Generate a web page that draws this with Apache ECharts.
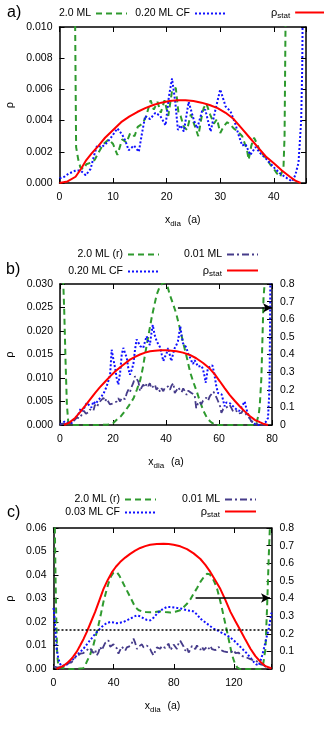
<!DOCTYPE html>
<html>
<head>
<meta charset="utf-8">
<script src="https://cdn.jsdelivr.net/npm/echarts@6/dist/echarts.min.js"></script>
<style>html,body{margin:0;padding:0;background:#fff}</style>
</head>
<body>
<div id="chart" style="width:324px;height:729px"></div>
<script>
// ---- a) ----
const aStat = [[0,0],[1.5,0.0001],[3,0.0004],[4,0.0009],[5,0.00147],[6,0.0019],[7.3,0.0024],[8.5,0.0029],[10,0.0034],[11.5,0.0039],[13,0.00425],[14.5,0.00455],[16,0.0048],[17.5,0.0050],[19,0.00515],[20.5,0.00525],[22,0.0053],[23.5,0.0053],[25,0.00525],[26.5,0.00515],[28,0.0050],[29.5,0.0048],[31,0.0045],[32.5,0.0041],[34,0.0035],[35.5,0.0029],[37,0.0023],[38.5,0.0017],[40,0.00126],[41.5,0.0008],[43,0.0004],[44,0.00015],[45,0]]
const a20ML = [[2.6,0.03],[2.9,0.011],[3.1,0.0023],[3.5,0.0015],[3.9,0.0010],[4.5,0.0009],[5.0,0.0012],[5.8,0.0013],[6.6,0.0015],[7.2,0.0019],[8.2,0.0025],[9.2,0.0028],[10.0,0.0025],[10.8,0.0018],[11.7,0.0028],[12.5,0.0026],[13.2,0.0032],[14.0,0.0030],[14.6,0.0036],[15.5,0.0038],[16.2,0.0043],[17.0,0.0053],[17.6,0.0047],[18.3,0.0052],[18.9,0.0045],[19.6,0.0053],[20.3,0.0043],[21.0,0.0059],[21.7,0.0061],[22.2,0.0045],[22.6,0.0043],[23.2,0.0036],[23.8,0.0034],[24.5,0.0044],[25.4,0.0035],[25.9,0.0030],[26.5,0.0042],[26.9,0.0048],[27.4,0.0051],[28.1,0.0044],[28.8,0.0038],[29.4,0.0041],[30.0,0.0032],[30.6,0.0036],[31.3,0.0039],[32.0,0.0037],[32.5,0.0035],[33.3,0.0033],[34.1,0.0030],[34.6,0.0025],[35.0,0.0021],[35.3,0.0015],[35.8,0.0024],[36.3,0.0029],[36.9,0.0025],[37.5,0.0019],[38.1,0.0018],[38.7,0.0015],[39.3,0.0012],[40.0,0.0009],[40.6,0.0006],[41.2,0.0004],[41.8,0.0010],[42.0,0.003],[42.2,0.011],[42.4,0.03]]
const a020CF = [[0,0.0003],[0.9,0.0004],[1.7,0.0006],[2.4,0.0007],[3.0,0.0008],[3.9,0.0008],[4.9,0.0005],[5.8,0.0009],[6.4,0.0017],[7.0,0.0024],[7.9,0.0023],[8.9,0.0026],[9.8,0.0030],[10.8,0.0035],[11.7,0.0031],[12.3,0.0027],[12.9,0.0021],[13.9,0.0024],[14.8,0.0020],[15.4,0.0032],[16.0,0.0043],[16.9,0.0041],[17.9,0.0045],[18.8,0.0043],[19.8,0.0037],[20.4,0.0055],[21.0,0.0067],[21.6,0.0052],[22.1,0.0034],[22.6,0.0037],[23.2,0.0033],[24.1,0.0052],[25.1,0.0040],[25.7,0.0035],[26.6,0.0046],[27.2,0.0047],[28.2,0.0033],[29.1,0.0047],[30.0,0.0060],[31.0,0.0049],[31.9,0.0046],[32.8,0.0038],[33.5,0.0030],[34.1,0.0024],[34.7,0.0025],[35.6,0.0018],[36.6,0.0023],[37.5,0.0019],[38.7,0.0015],[40.0,0.0010],[41.2,0.0006],[42.5,0.0003],[43.4,0.0001],[44.0,0.0005],[44.6,0.0013],[45.1,0.004],[45.3,0.0075],[45.4,0.012]]

// ---- b) ----
const bStat = [[1.5,0],[3.5,0.0005],[5.7,0.0015],[7.5,0.0027],[9.4,0.0040],[11.3,0.0054],[13.2,0.0068],[15,0.0080],[17,0.0092],[19,0.0104],[20.8,0.0114],[22.7,0.0123],[24.5,0.0131],[26.4,0.0139],[28.3,0.0145],[30.2,0.0150],[32.1,0.0154],[34,0.0157],[35.8,0.0158],[38,0.0159],[40,0.0159],[42,0.0158],[44,0.0157],[46.4,0.0154],[49,0.0149],[51.4,0.0142],[54,0.0132],[56.5,0.0120],[58.5,0.0107],[60.3,0.0093],[62.2,0.0078],[64,0.0064],[66,0.0051],[67.8,0.0040],[69.7,0.0029],[71.6,0.0019],[73.5,0.0011],[75.4,0.0006],[77,0.0002],[78.5,0]]
const b20MLr = [[1.0,1.0],[1.25,0.8],[1.6,0.645],[2.1,0.36],[2.6,0.115],[3.1,0.02],[3.6,0],[10,0],[15,0],[18,0.002],[20,0.01],[21.4,0.03],[23,0.05],[24.5,0.078],[26,0.11],[27.7,0.15],[29,0.2],[30.2,0.25],[31.2,0.32],[32.1,0.4],[33.4,0.51],[34.6,0.61],[35.6,0.68],[36.5,0.74],[37.5,0.78],[38.4,0.80],[39.5,0.81],[40.5,0.79],[41.4,0.74],[42.6,0.69],[43.9,0.63],[45.2,0.55],[46.6,0.46],[47.9,0.38],[49.1,0.30],[50.4,0.24],[51.6,0.19],[52.9,0.13],[54.2,0.078],[55.5,0.04],[56.7,0.02],[58,0.006],[59,0],[65,0],[70,0],[73,0],[74.1,0.01],[75,0.06],[75.4,0.115],[76,0.27],[76.6,0.6],[76.8,0.72],[77.2,0.8],[77.6,1.0]]
const b020CF = [[0,0.0001],[1,0.0005],[1.9,0.0008],[3,0.0005],[4.4,0.0004],[5.6,0.0012],[6.9,0.0022],[7.8,0.0035],[8.5,0.0030],[9.3,0.0038],[10.1,0.0047],[11,0.0042],[11.8,0.0037],[12.6,0.0050],[13.4,0.0045],[14.5,0.0053],[15.7,0.0061],[16.6,0.0069],[17.6,0.0082],[18.3,0.0095],[18.9,0.0107],[19.5,0.0160],[20.2,0.0138],[20.8,0.0121],[21.4,0.0100],[22,0.0086],[22.7,0.0112],[23.3,0.0150],[23.9,0.0164],[24.6,0.0152],[25.2,0.0143],[25.8,0.0120],[26.4,0.0107],[27.1,0.0118],[27.7,0.0130],[28.3,0.0160],[28.9,0.0182],[29.6,0.0175],[30.2,0.0168],[30.8,0.0172],[31.4,0.0164],[32.1,0.0178],[32.7,0.0189],[33.3,0.0178],[33.9,0.0170],[34.5,0.0195],[35,0.0213],[35.7,0.0192],[36.5,0.0178],[37.1,0.0180],[37.8,0.0165],[38.4,0.0150],[39,0.0136],[39.6,0.0145],[40.2,0.0152],[40.8,0.0164],[41.4,0.0150],[42,0.0136],[42.7,0.0152],[43.3,0.0164],[43.9,0.0170],[44.5,0.0178],[45.4,0.0210],[45.9,0.0190],[46.4,0.0174],[47.1,0.0176],[47.7,0.0165],[48.3,0.0152],[48.9,0.0146],[49.6,0.0136],[50.2,0.0130],[50.8,0.0138],[51.4,0.0132],[52.1,0.0124],[52.7,0.0121],[53.3,0.0126],[53.9,0.0120],[54.5,0.0105],[55,0.0090],[55.8,0.0121],[56.5,0.0118],[57.5,0.0127],[58.2,0.0110],[58.9,0.0085],[59.6,0.0068],[60.3,0.0070],[61,0.0065],[61.6,0.0052],[62.1,0.0040],[62.8,0.0048],[63.5,0.0052],[64.2,0.0046],[65.3,0.0040],[66,0.0036],[66.8,0.0032],[67.6,0.0030],[68.3,0.0037],[69,0.0043],[69.7,0.0050],[70.4,0.0033],[71.0,0.0022],[71.6,0.0015],[72.3,0.0008],[72.9,0.0004],[73.8,0.0001],[74.7,0],[75.7,0.0001],[76.6,0.0002],[77.6,0.0006],[78.5,0.0015],[78.9,0.006],[79.1,0.010],[79.3,0.025],[79.5,0.04]]
const b001ML = [[0,0],[1,0.0003],[2,0.0002],[3,0.0005],[4,0.0004],[5,0.0009],[5.7,0.0011],[6.5,0.0016],[7.3,0.0014],[8.2,0.0022],[9,0.0030],[9.8,0.0024],[10.7,0.0027],[11.3,0.0033],[11.9,0.0036],[12.6,0.0030],[13.2,0.0043],[13.9,0.0038],[14.5,0.0045],[15.1,0.0050],[15.7,0.0054],[16.4,0.0058],[17,0.0050],[17.6,0.0056],[18.2,0.0050],[18.8,0.0044],[19.5,0.0040],[20.1,0.0046],[20.8,0.0042],[21.4,0.0050],[22,0.0057],[22.7,0.0050],[23.3,0.0058],[23.9,0.0062],[24.6,0.0055],[25.2,0.0068],[25.8,0.0075],[26.4,0.0070],[27.1,0.0082],[27.7,0.0090],[28.3,0.0104],[28.9,0.0100],[29.6,0.0092],[30.2,0.0072],[30.8,0.0080],[31.4,0.0086],[32.1,0.0080],[32.7,0.0088],[33.3,0.0083],[33.9,0.0089],[34.5,0.0078],[35.2,0.0082],[35.8,0.0086],[36.4,0.0075],[37.1,0.0080],[37.7,0.0071],[38.3,0.0078],[39,0.0072],[39.6,0.0080],[40.2,0.0076],[40.8,0.0082],[41.5,0.0075],[42.1,0.0084],[42.8,0.0089],[43.3,0.0068],[44,0.0074],[44.6,0.0080],[45.2,0.0075],[45.9,0.0070],[46.5,0.0078],[47.1,0.0072],[47.8,0.0064],[48.4,0.0073],[48.9,0.0072],[49.6,0.0068],[50.2,0.0070],[50.8,0.0064],[51.4,0.0036],[52,0.0045],[52.7,0.0050],[53.3,0.0044],[54,0.0052],[54.6,0.0054],[55.2,0.0058],[55.9,0.0052],[56.5,0.0061],[57.2,0.0064],[57.9,0.0071],[58.4,0.0068],[59.1,0.0058],[59.7,0.0050],[60.4,0.0040],[60.9,0.0026],[61.6,0.0034],[62.3,0.0030],[63,0.0038],[64,0.0043],[64.7,0.0036],[65.4,0.0028],[65.9,0.0026],[66.6,0.0030],[67.2,0.0024],[67.8,0.0022],[68.5,0.0026],[69.1,0.0032],[69.7,0.0029],[70.3,0.0022],[71,0.0018],[71.6,0.0014],[72.2,0.0008],[73,0.0005],[74,0.0003],[75,0.0002],[76.5,0.0001],[78,0]]
const bArrow = [[44.5,0.665],[80,0.665]]

// ---- c) ----
const cStat = [[2,0],[4,0.0006],[6.5,0.0013],[9,0.0025],[11,0.0037],[13,0.0052],[15.5,0.0074],[17.7,0.0100],[20,0.0128],[22.1,0.0157],[24.9,0.0200],[27.7,0.0243],[30.5,0.0292],[33.2,0.0340],[36,0.0378],[38.8,0.0411],[41.5,0.0435],[44.3,0.0455],[47.7,0.0474],[51,0.0490],[54.3,0.0504],[57.7,0.0515],[61,0.0523],[64.3,0.0529],[68.7,0.0532],[73.2,0.0533],[76.6,0.0532],[79.9,0.0529],[84.3,0.0522],[88.8,0.0510],[93.2,0.0492],[97.7,0.0468],[101,0.0443],[104.3,0.0413],[107.6,0.0378],[111,0.0340],[114.3,0.0294],[117.7,0.0243],[121,0.0203],[124.3,0.0165],[127.7,0.0124],[131,0.0086],[134.3,0.0055],[137.7,0.0030],[141,0.0012],[144.3,0.0004],[145,0.0002]]
const c20MLr = [[0.3,1.2],[0.9,0.8],[1.3,0.55],[1.8,0.3],[2.4,0.1],[3.2,0.01],[4,0],[10,0],[15,0],[19.9,0.005],[21,0.02],[22.1,0.04],[24.3,0.08],[26.5,0.134],[28.2,0.19],[29.9,0.248],[31.6,0.315],[33.2,0.38],[34.9,0.435],[36.5,0.484],[38.2,0.525],[39.9,0.546],[41,0.552],[42.1,0.55],[43.8,0.53],[45.4,0.503],[47.6,0.465],[49.9,0.427],[52.1,0.39],[54.3,0.352],[56.5,0.335],[58.8,0.327],[61.5,0.323],[64.3,0.322],[67.6,0.324],[71,0.327],[74.3,0.323],[77.7,0.32],[81,0.325],[84.3,0.333],[86.5,0.35],[88.8,0.37],[91,0.395],[93.2,0.427],[95.5,0.46],[97.7,0.494],[100,0.522],[102.1,0.54],[103.8,0.538],[105.5,0.52],[107.2,0.49],[108.8,0.456],[110.5,0.4],[112.1,0.342],[113.8,0.275],[115.5,0.21],[117.2,0.14],[118.8,0.078],[120.5,0.035],[122.1,0.01],[124,0],[130,0],[137.7,0],[139.5,0.03],[141,0.115],[142.1,0.36],[143.2,0.645],[143.9,0.8],[144.3,1.0]]
const c003CF = [[0,0.026],[0.7,0.022],[1.3,0.016],[2.1,0.0086],[3.2,0.0045],[4.3,0.0023],[5.4,0.0012],[6.5,0.0009],[8.7,0.0018],[11,0.0030],[13.2,0.0043],[15.5,0.0058],[17.7,0.0072],[19.9,0.0086],[22.1,0.0104],[24.3,0.0122],[26.5,0.0140],[28.8,0.0157],[31,0.0172],[33.2,0.0186],[35.4,0.0195],[37.7,0.0200],[39.9,0.0198],[42.1,0.0195],[44.3,0.0197],[46.5,0.0200],[48.8,0.0207],[51,0.0214],[53.2,0.0222],[55.5,0.0228],[57.7,0.0224],[60,0.0215],[62.1,0.0209],[64.3,0.0207],[66.5,0.0218],[68.8,0.0235],[71,0.0248],[73.2,0.0257],[75.5,0.0264],[78.8,0.0263],[82.1,0.0260],[85.5,0.0256],[88.8,0.0250],[91,0.0248],[93.2,0.0245],[95.5,0.0232],[97.7,0.0214],[100,0.0203],[102.1,0.0193],[104.3,0.0182],[106.5,0.0172],[108.8,0.0165],[111,0.0157],[113.2,0.0150],[115.5,0.0143],[117.7,0.0133],[119.9,0.0122],[122.1,0.0108],[124.3,0.0094],[126.5,0.0080],[128.8,0.0065],[131,0.0048],[133.2,0.0030],[134.8,0.0020],[136.5,0.0016],[137.7,0.0035],[138.8,0.0058],[140,0.0088],[141,0.0115],[142.1,0.0145],[143.2,0.0172],[144.3,0.0214],[145,0.024]]
const c001ML = [[0,0.0010],[1,0.0016],[2,0.0008],[3.2,0.0004],[4.3,0.0006],[5.4,0.0010],[6.5,0.0014],[7.6,0.0012],[8.8,0.0016],[9.9,0.0025],[11,0.0032],[12.1,0.0028],[13.2,0.0044],[14.3,0.0040],[15.5,0.0052],[16.6,0.0048],[17.7,0.0065],[18.8,0.0058],[19.9,0.0068],[21,0.0062],[22.1,0.0080],[23.2,0.0072],[24.3,0.0090],[25.4,0.0078],[26.5,0.0068],[27.7,0.0082],[28.8,0.0058],[29.9,0.0070],[31,0.0095],[32.1,0.0080],[33.2,0.0086],[34.3,0.0110],[35.4,0.0118],[36.5,0.0122],[37.7,0.0095],[38.8,0.0088],[39.9,0.0105],[41,0.0098],[42.1,0.0088],[43.2,0.0065],[44.3,0.0080],[45.4,0.0095],[46.5,0.0088],[47.7,0.0078],[48.8,0.0092],[49.9,0.0085],[51,0.0098],[52.1,0.0110],[53.2,0.0129],[54.3,0.0112],[55.5,0.0085],[56.6,0.0095],[57.7,0.0090],[58.8,0.0105],[59.9,0.0092],[61,0.0085],[62.1,0.0100],[63.2,0.0094],[64.3,0.0085],[65.4,0.0070],[66.5,0.0058],[67.6,0.0075],[68.8,0.0092],[69.9,0.0100],[71,0.0086],[72.1,0.0098],[73.2,0.0105],[74.3,0.0090],[75.4,0.0098],[76.6,0.0108],[77.7,0.0080],[78.8,0.0090],[79.9,0.0104],[81,0.0096],[82.1,0.0085],[83.2,0.0110],[84.3,0.0120],[85.4,0.0116],[86.6,0.0095],[87.7,0.0078],[88.8,0.0090],[89.9,0.0070],[91,0.0082],[92.1,0.0098],[93.2,0.0090],[94.3,0.0085],[95.4,0.0100],[96.6,0.0092],[97.7,0.0082],[98.8,0.0095],[99.9,0.0080],[101,0.0088],[102.1,0.0095],[103.2,0.0086],[104.3,0.0098],[105.4,0.0085],[106.6,0.0090],[107.7,0.0080],[108.8,0.0088],[109.9,0.0094],[111,0.0082],[112.1,0.0090],[113.2,0.0075],[114.3,0.0082],[115.5,0.0072],[116.6,0.0080],[117.7,0.0070],[118.8,0.0076],[119.9,0.0080],[121,0.0068],[122.1,0.0062],[123.2,0.0070],[124.3,0.0058],[125.4,0.0064],[126.6,0.0052],[127.7,0.0058],[128.8,0.0048],[129.9,0.0052],[131,0.0042],[132.1,0.0046],[133.2,0.0036],[134.3,0.0040],[135.4,0.0032],[136.6,0.0026],[137.7,0.0020],[138.8,0.0015],[139.9,0.0016],[141,0.0009],[142.1,0.0005],[143.2,0.0003],[144.3,0.0002]]
const cDotted = [[0,0.0166],[145,0.0166]]
const cArrow = [[94.5,0.403],[144,0.403]]

// tick labels
const aXTicks = [0, 10, 20, 30, 40]
const bXTicks = [0, 20, 40, 60, 80]
const cXTicks = [0, 40, 80, 120]

const FONT = 'Liberation Sans'
const black = '#000'
const axLine = { show: true, onZero: false, lineStyle: { color: black, width: 1.5 } }
const axTick = { show: true, inside: true, length: 5, lineStyle: { color: black, width: 1 } }
const txt = { color: black, fontSize: 10.5, fontFamily: FONT }

const sty = {
  green: { color: '#2e9a2e', width: 2, type: [6, 4] },
  blue: { color: '#1010ff', width: 2, type: [2, 2] },
  red: { color: '#ff0000', width: 2, type: 'solid' },
  navy: { color: '#463c8a', width: 1.8, type: [7, 3, 2, 3] },
  dot: { color: black, width: 1.5, type: [2, 2] }
}

function xBottom (gi, max, step, shown) {
  return {
    gridIndex: gi, type: 'value', position: 'bottom', min: 0, max: max, interval: step,
    axisLine: axLine, axisTick: axTick, splitLine: { show: false },
    axisLabel: Object.assign({ margin: 9, formatter: v => shown.includes(v) ? String(v) : '' }, txt),
    name: '{x|x}{s|dia}  {x|(a)}',
    nameLocation: 'middle',
    nameGap: 30,
    nameTextStyle: { rich: { x: { fontSize: 10.5, fontFamily: FONT, color: black }, s: { fontSize: 8, fontFamily: FONT, color: black, padding: [7, 0, 0, 0] } } }
  }
}
function xTop (gi, max, step) {
  return {
    gridIndex: gi, type: 'value', position: 'top', min: 0, max: max, interval: step,
    axisLine: axLine, axisTick: axTick, axisLabel: { show: false }, splitLine: { show: false }
  }
}
function yLeft (gi, max, step, digits, gap) {
  return {
    gridIndex: gi, type: 'value', position: 'left', min: 0, max: max, interval: step,
    axisLine: axLine, axisTick: axTick, splitLine: { show: false },
    axisLabel: Object.assign({ margin: 7, formatter: v => v.toFixed(digits) }, txt),
    name: 'ρ', nameLocation: 'middle', nameGap: gap,
    nameTextStyle: { fontSize: 11, fontFamily: FONT, color: black }
  }
}
function yRight (gi, max, step, labels) {
  return {
    gridIndex: gi, type: 'value', position: 'right', min: 0, max: max, interval: step,
    axisLine: axLine, axisTick: axTick, splitLine: { show: false },
    axisLabel: labels ? Object.assign({ margin: 8, formatter: v => v === 0 ? '0' : v.toFixed(1) }, txt) : { show: false }
  }
}
function line (name, data, xi, yi, style, extra) {
  return Object.assign({
    name: name, type: 'line', data: data, xAxisIndex: xi, yAxisIndex: yi,
    symbol: 'none', showSymbol: false, lineStyle: style, itemStyle: { color: style.color },
    clip: true, silent: true, z: 2
  }, extra || {})
}
function arrow (pts) {
  return {
    silent: true, symbol: ['none', 'arrow'], symbolSize: [7, 9],
    lineStyle: { color: black, width: 1.5, type: 'solid' }, label: { show: false },
    data: [[{ coord: pts[0] }, { coord: pts[1] }]]
  }
}
const statRich = { r: { fontSize: 11, fontFamily: FONT, color: black }, s: { fontSize: 8, fontFamily: FONT, color: black, padding: [6, 0, 0, 0] } }
function leg (name, top, pos, isStat) {
  const l = Object.assign({
    data: [name], top: top, padding: 0, itemWidth: 31, itemHeight: 10, align: 'right',
    selectedMode: false, itemStyle: { opacity: 0, borderWidth: 0 },
    textStyle: Object.assign({}, txt)
  }, pos)
  if (isStat) {
    l.formatter = () => '{r|ρ}{s|stat}'
    l.textStyle.rich = statRich
  }
  return l
}

const option = {
  animation: false,
  backgroundColor: '#fff',
  title: [
    { text: 'a)', left: 7, top: 5, padding: 0, textStyle: { fontSize: 16, fontWeight: 'normal', fontFamily: FONT, color: black } },
    { text: 'b)', left: 6, top: 262, padding: 0, textStyle: { fontSize: 16, fontWeight: 'normal', fontFamily: FONT, color: black } },
    { text: 'c)', left: 7, top: 505, padding: 0, textStyle: { fontSize: 16, fontWeight: 'normal', fontFamily: FONT, color: black } }
  ],
  legend: [
    leg('2.0 ML', 8, { right: 196 }),
    leg('0.20 ML CF', 8, { right: 97 }),
    leg('ρstat', 7, { left: 271 }, true),
    leg('2.0 ML (r)', 249, { right: 164 }),
    leg('0.20 ML CF', 266, { right: 164 }),
    leg('0.01 ML', 249, { right: 65 }),
    leg('ρstat', 265, { right: 65 }, true),
    leg('2.0 ML (r)', 494, { right: 167 }),
    leg('0.03 ML CF', 507, { right: 167 }),
    leg('0.01 ML', 494, { right: 67 }),
    leg('ρstat', 506, { right: 67 }, true)
  ],
  grid: [
    { left: 59.5, top: 27, width: 246.5, height: 156, outerBoundsMode: 'none' },
    { left: 60, top: 284, width: 212, height: 141, outerBoundsMode: 'none' },
    { left: 53.5, top: 528, width: 218, height: 141, outerBoundsMode: 'none' }
  ],
  xAxis: [
    xBottom(0, 46, 10, aXTicks), xTop(0, 46, 10),
    xBottom(1, 80, 20, bXTicks), xTop(1, 80, 20),
    xBottom(2, 145, 40, cXTicks), xTop(2, 145, 40)
  ],
  yAxis: [
    yLeft(0, 0.010, 0.002, 3, 41), yRight(0, 0.010, 0.002, false),
    yLeft(1, 0.030, 0.005, 3, 41), yRight(1, 0.8, 0.1, true),
    yLeft(2, 0.06, 0.01, 2, 35), yRight(2, 0.8, 0.1, true)
  ],
  series: [
    // a)
    line('2.0 ML', a20ML, 0, 0, sty.green),
    line('0.20 ML CF', a020CF, 0, 0, sty.blue),
    line('ρstat', aStat, 0, 0, sty.red),
    // b)
    line('2.0 ML (r)', b20MLr, 2, 3, sty.green, { markLine: arrow(bArrow) }),
    line('0.20 ML CF', b020CF, 2, 2, sty.blue),
    line('0.01 ML', b001ML, 2, 2, sty.navy),
    line('ρstat', bStat, 2, 2, sty.red),
    // c)
    line('2.0 ML (r)', c20MLr, 4, 5, sty.green, { markLine: arrow(cArrow) }),
    line('0.03 ML CF', c003CF, 4, 4, sty.blue),
    line('0.01 ML', c001ML, 4, 4, sty.navy),
    line('ρstat', cStat, 4, 4, sty.red),
    line('level', cDotted, 4, 4, sty.dot)
  ]
}

const myChart = echarts.init(document.getElementById('chart'), null, { renderer: 'canvas' })
myChart.setOption(option)
window.onresize = () => {
  myChart.resize()
}
</script>
</body>
</html>
